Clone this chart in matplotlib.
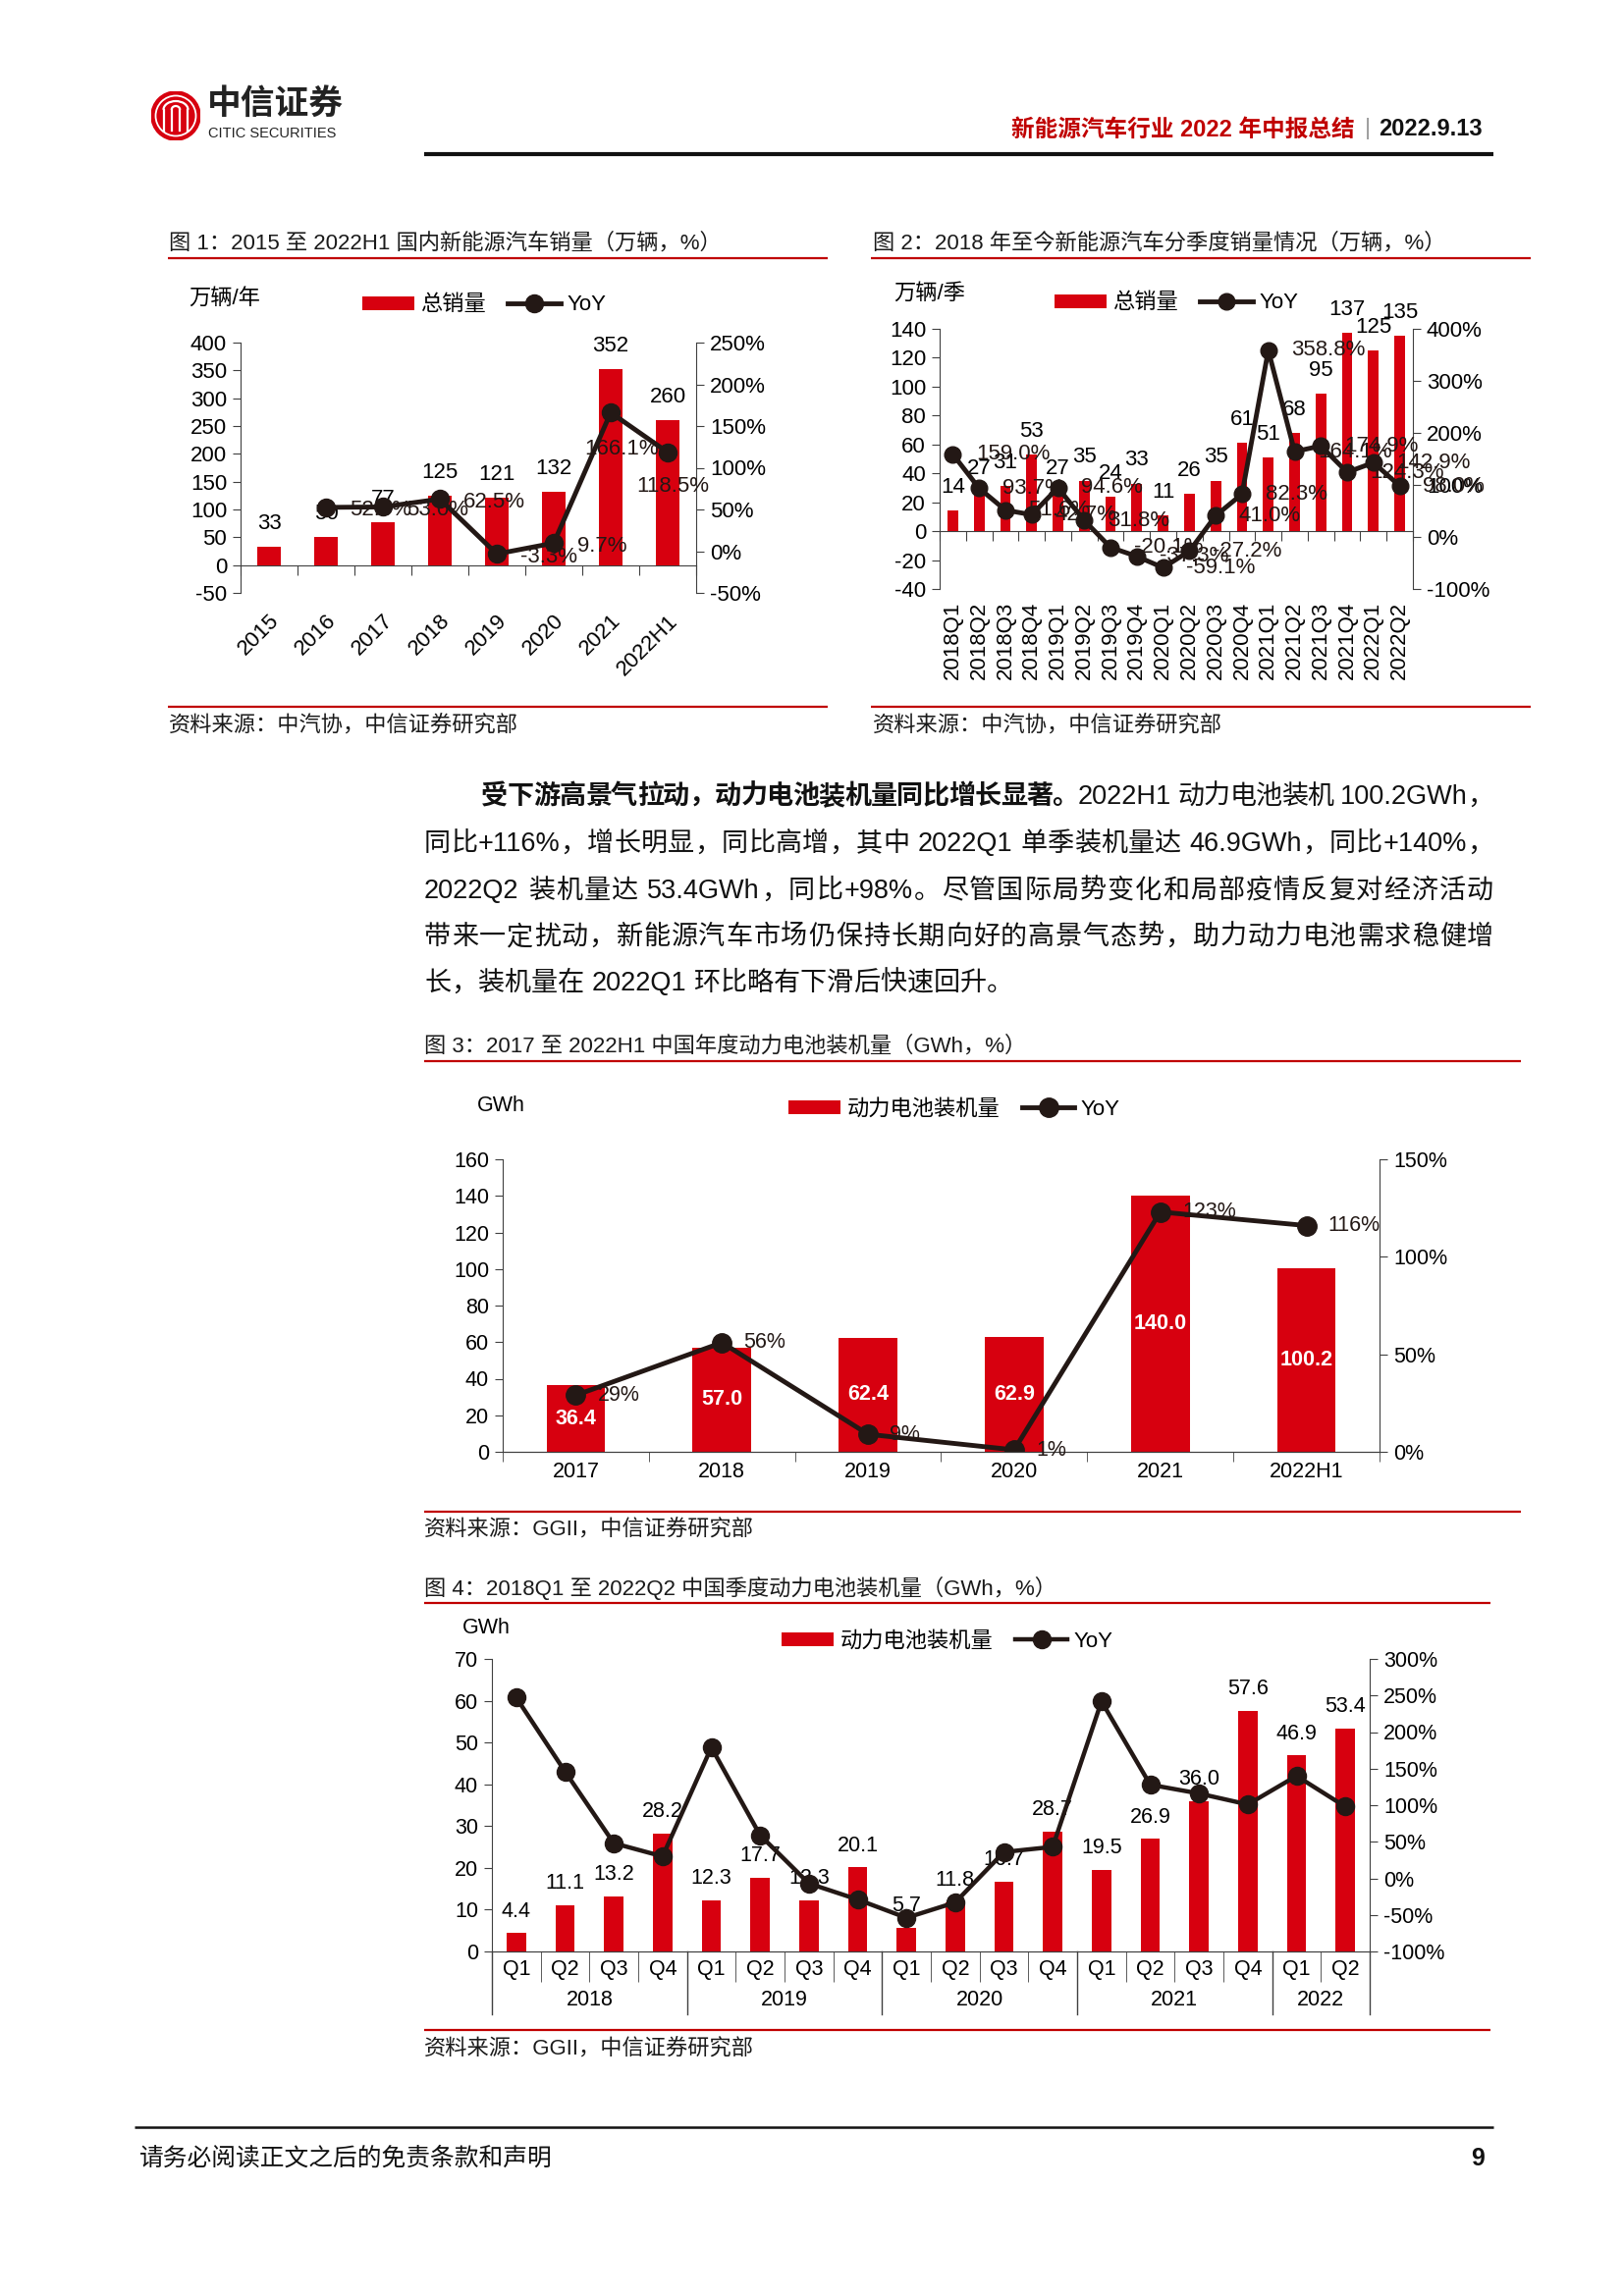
import re
import matplotlib
matplotlib.use('Agg')
import matplotlib.pyplot as plt
import numpy as np
from matplotlib.lines import Line2D
from matplotlib.patches import Circle, Arc
from matplotlib.font_manager import FontProperties, fontManager

plt.rcParams['font.family'] = ['Liberation Sans', 'Noto Sans CJK SC']
plt.rcParams['axes.unicode_minus'] = False

# ---------------- data ----------------
years1 = ['2015', '2016', '2017', '2018', '2019', '2020', '2021', '2022H1']
sales1 = [33, 50, 77, 125, 121, 132, 352, 260]
yoy1 = [np.nan, 52.5, 53.0, 62.5, -3.3, 9.7, 166.1, 118.5]

quarters2 = ['2018Q1', '2018Q2', '2018Q3', '2018Q4', '2019Q1', '2019Q2', '2019Q3', '2019Q4',
             '2020Q1', '2020Q2', '2020Q3', '2020Q4', '2021Q1', '2021Q2', '2021Q3', '2021Q4',
             '2022Q1', '2022Q2']
sales2 = [14, 27, 31, 53, 27, 35, 24, 33, 11, 26, 35, 61, 51, 68, 95, 137, 125, 135]
yoy2 = [159.0, 93.7, 51.6, 42.7, 94.6, 31.8, -20.1, -37.3, -59.1, -27.2, 41.0, 82.3,
        358.8, 164.1, 174.9, 124.3, 142.9, 98.0]

years3 = ['2017', '2018', '2019', '2020', '2021', '2022H1']
install3 = [36.4, 57.0, 62.4, 62.9, 140.0, 100.2]
yoy3 = [29, 56, 9, 1, 123, 116]

quarters4 = ['Q1', 'Q2', 'Q3', 'Q4'] * 4 + ['Q1', 'Q2']
groups4 = ['2018', '2019', '2020', '2021', '2022']
group_sizes4 = [4, 4, 4, 4, 2]
install4 = [4.4, 11.1, 13.2, 28.2, 12.3, 17.7, 12.3, 20.1, 5.7, 11.8, 16.7, 28.7,
            19.5, 26.9, 36.0, 57.6, 46.9, 53.4]
yoy4 = [247, 146, 48, 30, 179, 59, -7, -29, -54, -33, 36, 43, 242, 128, 116, 101, 140, 98]

body_lines = [
    [('受下游高景气拉动，动力电池装机量同比增长显著。', 'bold'), ('2022H1 动力电池装机 100.2GWh，', 'normal')],
    [('同比+116%，增长明显，同比高增，其中 2022Q1 单季装机量达 46.9GWh，同比+140%，', 'normal')],
    [('2022Q2 装机量达 53.4GWh，同比+98%。尽管国际局势变化和局部疫情反复对经济活动', 'normal')],
    [('带来一定扰动，新能源汽车市场仍保持长期向好的高景气态势，助力动力电池需求稳健增', 'normal')],
    [('长，装机量在 2022Q1 环比略有下滑后快速回升。', 'normal')],
]

# ---------------- page setup ----------------
W, H = 1654, 2339
RED = '#D7000F'
DARK = '#231815'
RULE = '#C00000'
SPINE = '#404040'
CAP = 16  # caption / source font size

fig = plt.figure(figsize=(W / 100, H / 100), dpi=100)


def fx(x):
    return x / W


def fy(y):
    return 1 - y / H


def axes_px(left, top, right, bottom):
    return fig.add_axes([fx(left), fy(bottom), (right - left) / W, (bottom - top) / H])


def hline(x0, x1, y, color, lw):
    fig.add_artist(Line2D([fx(x0), fx(x1)], [fy(y), fy(y)], transform=fig.transFigure,
                          color=color, lw=lw, solid_capstyle='butt'))


def text(x, y, s, **kw):
    kw.setdefault('va', 'center')
    return fig.text(fx(x), fy(y), s, **kw)


def add_legend(handles, labels, cx, cy, fs):
    fig.legend(handles, labels, loc='center', bbox_to_anchor=(fx(cx), fy(cy)), ncol=2,
               frameon=False, fontsize=fs, handlelength=2.4, handleheight=0.6,
               handletextpad=0.3, columnspacing=1.0, borderpad=0, borderaxespad=0)


def style_pair(ax, axr, fs, show_bottom):
    for a in (ax, axr):
        a.spines['top'].set_visible(False)
        a.spines['bottom'].set_visible(show_bottom)
        a.spines['bottom'].set_color(SPINE)
    ax.spines['right'].set_visible(False)
    axr.spines['left'].set_visible(False)
    ax.spines['left'].set_color(SPINE)
    axr.spines['right'].set_color(SPINE)
    for a in (ax, axr):
        a.tick_params(axis='y', direction='out', length=6, color=SPINE, labelsize=fs, pad=4)


def zero_axis(ax, n, ymin, ymax):
    sec = ax.secondary_xaxis((0 - ymin) / (ymax - ymin))
    sec.set_xticks(np.arange(-0.5, n, 1.0))
    sec.tick_params(axis='x', direction='out', length=7, color=SPINE,
                    labelbottom=False, labeltop=False)
    for sp in sec.spines.values():
        sp.set_color(SPINE)


# ---------------- header ----------------
logo = axes_px(154, 93, 204, 143)
logo.set_xlim(-1, 1)
logo.set_ylim(-1, 1)
logo.set_aspect('equal')
logo.axis('off')
logo.add_patch(Circle((0, 0), 1, color=RED))
logo.add_patch(Circle((0, 0), 0.82, fill=False, ec='white', lw=1.3))
for xv in (-0.5, -0.17, 0.17, 0.5):
    logo.plot([xv, xv], [-0.6, 0.25], color='white', lw=1.6)
logo.add_patch(Arc((0, 0.25), 1.0, 0.7, theta1=0, theta2=180, color='white', lw=1.6))
logo.add_patch(Arc((0, 0.25), 0.34, 0.3, theta1=0, theta2=180, color='white', lw=1.6))

text(211, 106, '中信证券', fontsize=25, weight='bold', color='#222222')
text(212, 136, 'CITIC SECURITIES', fontsize=10.5, color='#222222')

text(1510, 132, '2022.9.13', ha='right', fontsize=17, weight='bold', color='#111111')
text(1393, 131, '|', ha='center', fontsize=17, color='#999999')
text(1380, 132, '新能源汽车行业 2022 年中报总结', ha='right', fontsize=17, weight='bold', color='#C00000')
hline(432, 1521, 157, '#111111', 3)

# ---------------- chart 1 ----------------
text(172, 248, '图 1：2015 至 2022H1 国内新能源汽车销量（万辆，%）', fontsize=CAP, color='#1a1a1a')
hline(171, 843, 263, RULE, 1.6)
hline(171, 843, 720, RULE, 1.6)
text(172, 740, '资料来源：中汽协，中信证券研究部', fontsize=CAP, color='#1a1a1a')
text(192, 304, '万辆/年', fontsize=16)

ax1 = axes_px(245, 349, 709, 604)
x1 = np.arange(len(years1))
bars1 = ax1.bar(x1, sales1, width=0.4, color=RED, zorder=2)
ax1.set_xlim(-0.5, len(years1) - 0.5)
ax1.set_ylim(-50, 400)
ax1.set_yticks(np.arange(-50, 401, 50))
ax1.set_xticks(x1, years1, rotation=45, ha='right', rotation_mode='anchor', fontsize=16)
ax1.tick_params(axis='x', length=0, pad=13)
ax1r = ax1.twinx()
ax1r.set_ylim(-50, 250)
ticks1r = np.arange(-50, 251, 50)
ax1r.set_yticks(ticks1r, [f'{v}%' for v in ticks1r])
line1, = ax1r.plot(x1, yoy1, color=DARK, lw=3.5, marker='o', ms=13)
style_pair(ax1, ax1r, 16, False)
zero_axis(ax1, len(years1), -50, 400)

for i, v in enumerate(sales1):
    ax1.annotate(f'{v}', (x1[i], v), xytext=(0, 17), textcoords='offset points',
                 ha='center', va='center', fontsize=16)
special1 = {6: (8, -27), 7: (4, -25)}
for i, v in enumerate(yoy1):
    if np.isnan(v):
        continue
    if i in special1:
        ax1r.annotate(f'{v:.1f}%', (x1[i], v), xytext=special1[i], textcoords='offset points',
                      ha='center', va='center', fontsize=16, color=DARK)
    else:
        ax1r.annotate(f'{v:.1f}%', (x1[i], v), xytext=(17, -2), textcoords='offset points',
                      ha='left', va='center', fontsize=16, color=DARK)
add_legend([bars1, line1], ['总销量', 'YoY'], 493, 311, 16)

# ---------------- chart 2 ----------------
text(889, 248, '图 2：2018 年至今新能源汽车分季度销量情况（万辆，%）', fontsize=CAP, color='#1a1a1a')
hline(887, 1559, 263, RULE, 1.6)
hline(887, 1559, 720, RULE, 1.6)
text(889, 740, '资料来源：中汽协，中信证券研究部', fontsize=CAP, color='#1a1a1a')
text(910, 299, '万辆/季', fontsize=16)

ax2 = axes_px(957, 335, 1439, 600)
x2 = np.arange(len(quarters2))
bars2 = ax2.bar(x2, sales2, width=0.4, color=RED, zorder=2)
ax2.set_xlim(-0.5, len(quarters2) - 0.5)
ax2.set_ylim(-40, 140)
ax2.set_yticks(np.arange(-40, 141, 20))
ax2.set_xticks(x2, quarters2, rotation=90, ha='center', va='top', fontsize=16)
ax2.tick_params(axis='x', length=0, pad=9)
ax2r = ax2.twinx()
ax2r.set_ylim(-100, 400)
ticks2r = np.arange(-100, 401, 100)
ax2r.set_yticks(ticks2r, [f'{v}%' for v in ticks2r])
line2, = ax2r.plot(x2, yoy2, color=DARK, lw=3.5, marker='o', ms=12)
style_pair(ax2, ax2r, 16, False)
zero_axis(ax2, len(quarters2), -40, 140)

for i, v in enumerate(sales2):
    ax2.annotate(f'{v}', (x2[i], v), xytext=(0, 17), textcoords='offset points',
                 ha='center', va='center', fontsize=16)
for i, v in enumerate(yoy2):
    ax2r.annotate(f'{v:.1f}%', (x2[i], v), xytext=(17, 0), textcoords='offset points',
                  ha='left', va='center', fontsize=16, color=DARK)
add_legend([bars2, line2], ['总销量', 'YoY'], 1198, 309, 16)

# ---------------- body text ----------------
NARROW = 'Liberation Sans Narrow' if 'Liberation Sans Narrow' in {f.name for f in fontManager.ttflist} else 'Liberation Sans'
BODY_FONT = [NARROW, 'Noto Sans CJK SC']
renderer = fig.canvas.get_renderer()


def draw_line(parts, x0, x1, y, fs, justify):
    items = []
    for s, wt in parts:
        prop = FontProperties(family=BODY_FONT, size=fs, weight=wt)
        for tk in re.findall(r'[A-Za-z0-9.+%]+|\s+|.', s):
            w = renderer.get_text_width_height_descent(tk, prop, ismath=False)[0]
            items.append((tk, prop, w))
    total = sum(w for _, _, w in items)
    gap = (x1 - x0 - total) / (len(items) - 1) if justify else 0
    x = x0
    for tk, prop, w in items:
        if not tk.isspace():
            fig.text(fx(x), fy(y), tk, fontproperties=prop, ha='left', va='center', color='#111111')
        x += w + gap


body_y = [812, 860, 908, 955, 1002]
for k, parts in enumerate(body_lines):
    draw_line(parts, 490 if k == 0 else 432, 1521, body_y[k], 19.5, k < len(body_lines) - 1)

# ---------------- chart 3 ----------------
text(432, 1066, '图 3：2017 至 2022H1 中国年度动力电池装机量（GWh，%）', fontsize=CAP, color='#1a1a1a')
hline(432, 1549, 1081, RULE, 1.6)
hline(432, 1549, 1540, RULE, 1.6)
text(432, 1559, '资料来源：GGII，中信证券研究部', fontsize=CAP, color='#1a1a1a')
text(486, 1127, 'GWh', fontsize=15.5)

ax3 = axes_px(512, 1181, 1405, 1479)
x3 = np.arange(len(years3))
bars3 = ax3.bar(x3, install3, width=0.4, color=RED, zorder=2)
ax3.set_xlim(-0.5, len(years3) - 0.5)
ax3.set_ylim(0, 160)
ax3.set_yticks(np.arange(0, 161, 20))
ax3.set_xticks(x3, years3, fontsize=15.5)
ax3.set_xticks(np.arange(-0.5, len(years3), 1.0), minor=True)
ax3.tick_params(axis='x', which='major', length=0, pad=7)
ax3.tick_params(axis='x', which='minor', direction='out', length=7, color=SPINE)
ax3r = ax3.twinx()
ax3r.set_ylim(0, 150)
ticks3r = np.arange(0, 151, 50)
ax3r.set_yticks(ticks3r, [f'{v}%' for v in ticks3r])
line3, = ax3r.plot(x3, yoy3, color=DARK, lw=3.5, marker='o', ms=14)
style_pair(ax3, ax3r, 15.5, True)

for i, v in enumerate(install3):
    ax3.text(x3[i], v / 2, f'{v:.1f}', ha='center', va='center', fontsize=15.5,
             weight='bold', color='white')
for i, v in enumerate(yoy3):
    ax3r.annotate(f'{v}%', (x3[i], v), xytext=(16, 0), textcoords='offset points',
                  ha='left', va='center', fontsize=15.5, color=DARK)
add_legend([bars3, line3], ['动力电池装机量', 'YoY'], 972, 1130, 16)

# ---------------- chart 4 ----------------
text(432, 1618, '图 4：2018Q1 至 2022Q2 中国季度动力电池装机量（GWh，%）', fontsize=CAP, color='#1a1a1a')
hline(432, 1518, 1633, RULE, 1.6)
hline(432, 1518, 2068, RULE, 1.6)
text(432, 2088, '资料来源：GGII，中信证券研究部', fontsize=CAP, color='#1a1a1a')
text(471, 1659, 'GWh', fontsize=15.5)

ax4 = axes_px(501, 1690, 1395, 1988)
x4 = np.arange(len(quarters4))
bars4 = ax4.bar(x4, install4, width=0.4, color=RED, zorder=2)
ax4.set_xlim(-0.5, len(quarters4) - 0.5)
ax4.set_ylim(0, 70)
ax4.set_yticks(np.arange(0, 71, 10))
ax4.set_xticks(x4, quarters4, fontsize=15.5)
ax4.set_xticks(np.arange(-0.5, len(quarters4), 1.0), minor=True)
ax4.tick_params(axis='x', which='major', length=0, pad=6)
ax4.tick_params(axis='x', which='minor', direction='out', length=22, color=SPINE)
ax4r = ax4.twinx()
ax4r.set_ylim(-100, 300)
ticks4r = np.arange(-100, 301, 50)
ax4r.set_yticks(ticks4r, [f'{v}%' for v in ticks4r])
line4, = ax4r.plot(x4, yoy4, color=DARK, lw=3.2, marker='o', ms=13)
style_pair(ax4, ax4r, 15.5, True)

edges4 = np.concatenate([[0], np.cumsum(group_sizes4)]) - 0.5
for e in edges4:
    ax4.plot([e, e], [0, -0.215], transform=ax4.get_xaxis_transform(), color=SPINE,
             lw=1, clip_on=False)
for g, c in zip(groups4, (edges4[:-1] + edges4[1:]) / 2):
    ax4.text(c, -0.165, g, transform=ax4.get_xaxis_transform(), ha='center', va='center',
             fontsize=15.5)

for i, v in enumerate(install4):
    ax4.annotate(f'{v:.1f}', (x4[i], v), xytext=(0, 16), textcoords='offset points',
                 ha='center', va='center', fontsize=15.5)
add_legend([bars4, line4], ['动力电池装机量', 'YoY'], 965, 1672, 16)

# ---------------- footer ----------------
hline(137, 1521, 2167, '#111111', 1.8)
text(142, 2199, '请务必阅读正文之后的免责条款和声明', fontsize=17.8, color='#111111')
text(1512, 2199, '9', ha='right', fontsize=17.8, weight='bold', color='#111111')

fig.savefig('out.png', dpi=100)
